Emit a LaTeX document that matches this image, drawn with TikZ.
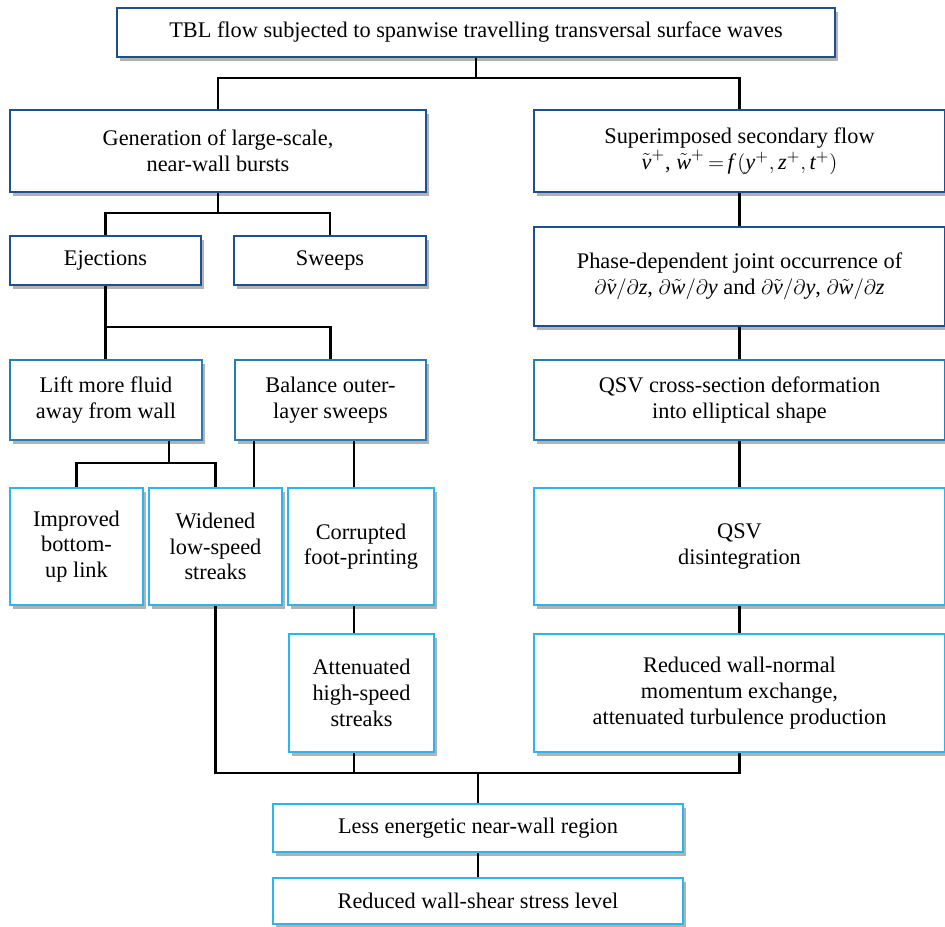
\documentclass[tikz,border=0pt]{standalone}
\usepackage{fontspec}
\setmainfont{Liberation Serif}
\usetikzlibrary{shadows}

\newcommand{\vtil}{\tilde{\textit{v}}}
\newcommand{\wtil}{\tilde{\textit{w}}}

\begin{document}
\begin{tikzpicture}[x=0.02cm, y=-0.02cm,
  flowbox/.style={draw, fill=white, line width=1.6pt, align=center, inner sep=0pt,
    font=\fontsize{12.7}{14.6}\selectfont,
    drop shadow={shadow xshift=1.8pt, shadow yshift=-2pt, fill=black!30, opacity=1}},
  darkbox/.style={flowbox, draw=darkframe},
  midbox/.style={flowbox, draw=midframe},
  lightbox/.style={flowbox, draw=lightframe},
  link/.style={line width=1.5pt, black}]

\def\px{0.02cm}
\definecolor{darkframe}{RGB}{30,80,145}
\definecolor{midframe}{RGB}{38,124,182}
\definecolor{lightframe}{RGB}{42,182,236}

\useasboundingbox (0,0) rectangle (945,926);

\node[darkbox, minimum width=718*\px, minimum height=49*\px] (top) at (476,32.5) {TBL flow subjected to spanwise travelling transversal surface waves};

\node[darkbox, minimum width=416*\px, minimum height=82*\px] (gen) at (218,151) {Generation of large-scale,\\near-wall bursts};

\node[darkbox, minimum width=411*\px, minimum height=82*\px] (sup) at (739.5,151) {Superimposed secondary flow\\$\vtil^{+}$, $\wtil^{+}\,{=}\,\textit{f}\,(\textit{y}^{+}, \textit{z}^{+}, \textit{t}^{+})$};

\node[darkbox, minimum width=191*\px, minimum height=49*\px] (ejections) at (105.5,260.5) {Ejections};

\node[darkbox, minimum width=192*\px, minimum height=49*\px] (sweeps) at (330,260.5) {Sweeps};

\node[darkbox, minimum width=411*\px, minimum height=99*\px] (phase) at (739.5,276.5) {Phase-dependent joint occurrence of\\$\partial\vtil/\partial\textit{z}$, $\partial\wtil/\partial\textit{y}$ and $\partial\vtil/\partial\textit{y}$, $\partial\wtil/\partial\textit{z}$};

\node[midbox, minimum width=192*\px, minimum height=80*\px] (lift) at (106,400) {Lift more fluid\\away from wall};

\node[midbox, minimum width=191*\px, minimum height=80*\px] (balance) at (330.5,400) {Balance outer-\\layer sweeps};

\node[midbox, minimum width=411*\px, minimum height=80*\px] (qsvdef) at (739.5,400) {QSV cross-section deformation\\into elliptical shape};

\node[lightbox, minimum width=133*\px, minimum height=117*\px] (improved) at (76.5,546.5) {Improved\\bottom-\\up link};

\node[lightbox, minimum width=133*\px, minimum height=117*\px] (widened) at (215.5,546.5) {Widened\\low-speed\\streaks};

\node[lightbox, minimum width=146*\px, minimum height=117*\px] (corrupted) at (361,546.5) {Corrupted\\foot-printing};

\node[lightbox, minimum width=411*\px, minimum height=117*\px] (qsvdis) at (739.5,546.5) {QSV\\disintegration};

\node[lightbox, minimum width=145*\px, minimum height=118*\px] (attenuated) at (361.5,693) {Attenuated\\high-speed\\streaks};

\node[lightbox, minimum width=411*\px, minimum height=118*\px] (reducednormal) at (739.5,693) {Reduced wall-normal\\momentum exchange,\\attenuated turbulence production};

\node[lightbox, minimum width=410*\px, minimum height=48*\px] (lessenergetic) at (478,828) {Less energetic near-wall region};

\node[lightbox, minimum width=410*\px, minimum height=46*\px] (reducedshear) at (478,901) {Reduced wall-shear stress level};

\coordinate (bartop) at (0,78);
\coordinate (barejsw) at (0,213);
\coordinate (barlift) at (0,327);
\coordinate (liftout) at (169,463);
\coordinate (balleft) at (254,0);
\coordinate (balright) at (354,0);
\coordinate (barbottom) at (0,773);

\draw[link] (top.south) -- (top.south |- bartop);
\draw[link] (gen.north) -- (gen.north |- bartop) -- (sup.north |- bartop) -- (sup.north);

\draw[link] (gen.south) -- (gen.south |- barejsw);
\draw[link] (ejections.north) -- (ejections.north |- barejsw) -- (sweeps.north |- barejsw) -- (sweeps.north);

\draw[link] (ejections.south) -- (ejections.south |- lift.north);
\draw[link] (ejections.south |- barlift) -- (balance.north |- barlift) -- (balance.north);

\draw[link] (lift.south -| liftout) -- (liftout);
\draw[link] (improved.north) -- (improved.north |- liftout) -- (widened.north |- liftout) -- (widened.north);

\draw[link] (balance.south -| balleft) -- (widened.north -| balleft);
\draw[link] (balance.south -| balright) -- (corrupted.north -| balright);
\draw[link] (corrupted.south -| balright) -- (attenuated.north -| balright);

\draw[link] (sup.south) -- (phase.north);
\draw[link] (phase.south) -- (qsvdef.north);
\draw[link] (qsvdef.south) -- (qsvdis.north);
\draw[link] (qsvdis.south) -- (reducednormal.north);

\draw[link] (widened.south) -- (widened.south |- barbottom) -- (reducednormal.south |- barbottom) -- (reducednormal.south);
\draw[link] (attenuated.south -| balright) -- (barbottom -| balright);
\draw[link] (lessenergetic.north |- barbottom) -- (lessenergetic.north);
\draw[link] (lessenergetic.south) -- (reducedshear.north);

\end{tikzpicture}
\end{document}
